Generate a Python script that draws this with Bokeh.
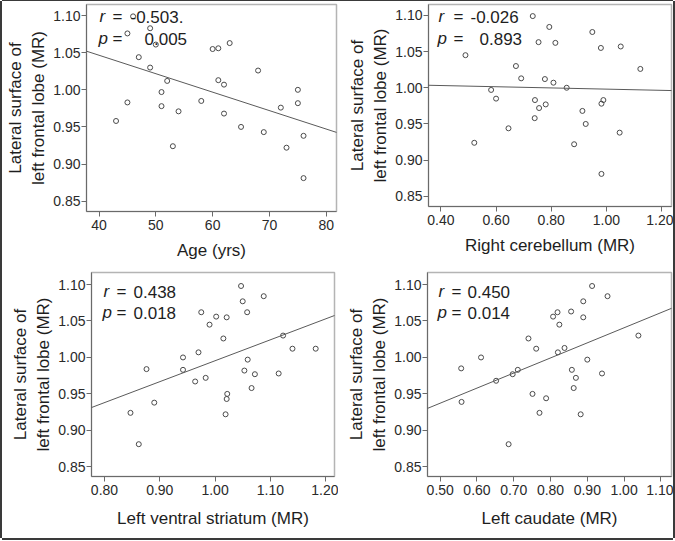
import numpy as np
from bokeh.plotting import figure
from bokeh.layouts import row, column
from bokeh.models import FixedTicker, PrintfTickFormatter, Slope, Label
from bokeh.embed import file_html
from bokeh.resources import INLINE

# ---------------- data ----------------
age = [46, 45, 49, 50, 47, 49, 52, 51, 45, 51, 43, 54, 53, 58, 60, 61, 63, 61, 62, 62,
       65, 68, 69, 72, 75, 75, 73, 76, 76]
lfl_age = [1.099, 1.076, 1.083, 1.061, 1.044, 1.030, 1.012, 0.997, 0.983, 0.978, 0.958,
           0.971, 0.924, 0.985, 1.055, 1.056, 1.063, 1.013, 1.007, 0.968, 0.950, 1.026,
           0.943, 0.976, 1.000, 0.982, 0.922, 0.938, 0.881]

right_cerebellum = [0.733, 0.793, 0.949, 0.754, 0.815, 0.980, 1.052, 0.489, 0.672, 1.123,
                    0.691, 0.777, 0.808, 0.856, 0.582, 0.600, 0.741, 0.989, 0.982, 0.780,
                    0.756, 0.913, 0.740, 0.925, 0.645, 1.048, 0.521, 0.883, 0.982]
lfl_rc = [1.099, 1.084, 1.077, 1.063, 1.062, 1.055, 1.057, 1.045, 1.030, 1.026, 1.013,
          1.012, 1.007, 1.000, 0.997, 0.985, 0.983, 0.983, 0.978, 0.977, 0.972, 0.968,
          0.958, 0.950, 0.944, 0.938, 0.924, 0.922, 0.881]

left_ventral_striatum = [1.047, 1.088, 1.050, 0.975, 1.058, 1.002, 1.021, 0.990, 1.123,
                         1.015, 1.140, 1.182, 0.970, 0.942, 1.059, 0.876, 0.942, 1.053,
                         1.072, 1.115, 0.983, 0.964, 1.066, 1.022, 1.021, 0.890, 0.847,
                         1.019, 0.862]
lfl_lvs = [1.098, 1.084, 1.077, 1.062, 1.062, 1.056, 1.055, 1.045, 1.030, 1.026, 1.012,
           1.012, 1.007, 1.000, 0.997, 0.984, 0.983, 0.982, 0.977, 0.978, 0.972, 0.967,
           0.958, 0.950, 0.943, 0.938, 0.924, 0.922, 0.881]

left_caudate = [0.913, 0.955, 0.889, 0.819, 0.856, 0.807, 0.889, 0.824, 1.039, 0.740,
                0.838, 0.761, 0.820, 0.611, 0.900, 0.557, 0.711, 0.858, 0.697, 0.940,
                0.869, 0.652, 0.863, 0.751, 0.788, 0.558, 0.770, 0.882, 0.686]
lfl_lc = [1.098, 1.084, 1.077, 1.062, 1.063, 1.056, 1.055, 1.045, 1.030, 1.026, 1.013,
          1.012, 1.007, 1.000, 0.997, 0.985, 0.983, 0.983, 0.977, 0.978, 0.972, 0.968,
          0.958, 0.950, 0.944, 0.939, 0.924, 0.922, 0.881]

y_ticks = [0.85, 0.90, 0.95, 1.00, 1.05, 1.10]
x_ticks_age = [40, 50, 60, 70, 80]
x_ticks_rc = [0.40, 0.60, 0.80, 1.00, 1.20]
x_ticks_lvs = [0.80, 0.90, 1.00, 1.10, 1.20]
x_ticks_lc = [0.50, 0.60, 0.70, 0.80, 0.90, 1.00, 1.10]

stats_r = ["-0.503.", "-0.026", "0.438", "0.450"]
stats_p = ["0.005", "0.893", "0.018", "0.014"]
x_titles = ["Age (yrs)", "Right cerebellum (MR)", "Left ventral striatum (MR)", "Left caudate (MR)"]
y_title = "Lateral surface of\nleft frontal lobe (MR)"

FONT = "Liberation Sans"


def panel(x, y, xr, yr, xticks, xfmt, xtitle, r_txt, p_txt, width, height,
          bl, br, bt, bb, pos, xlab_standoff):
    fw = width - bl - br
    fh = height - bt - bb
    p = figure(frame_width=fw, frame_height=fh, x_range=xr, y_range=yr,
               output_backend="svg", toolbar_location=None,
               min_border_left=bl, min_border_right=br,
               min_border_top=bt, min_border_bottom=bb)
    p.background_fill_color = "white"
    p.border_fill_color = "white"
    p.outline_line_color = "#b4b4b4"
    p.outline_line_width = 1.5
    p.grid.visible = False

    for ax in (p.xaxis[0], p.yaxis[0]):
        ax.axis_line_color = "#6a6a6a"
        ax.axis_line_width = 1
        ax.major_tick_line_color = "#6a6a6a"
        ax.major_tick_out = 5
        ax.major_tick_in = 0
        ax.minor_tick_line_color = None
        ax.major_label_text_font = FONT
        ax.major_label_text_font_size = "14px"
        ax.major_label_text_color = "#2a2a2a"
        ax.axis_label_text_font = FONT
        ax.axis_label_text_font_size = "17px"
        ax.axis_label_text_font_style = "normal"
        ax.axis_label_text_color = "#1e1e1e"

    p.xaxis.ticker = FixedTicker(ticks=xticks)
    p.xaxis.formatter = PrintfTickFormatter(format=xfmt)
    p.xaxis.axis_label = xtitle
    p.xaxis.major_label_standoff = 3
    p.xaxis.axis_label_standoff = xlab_standoff

    p.yaxis.ticker = FixedTicker(ticks=y_ticks)
    p.yaxis.formatter = PrintfTickFormatter(format="%.2f")
    p.yaxis.axis_label = y_title
    p.yaxis.major_label_standoff = 1
    p.yaxis.axis_label_standoff = 2

    # regression line fitted to the plotted points
    k, b = np.polyfit(np.array(x, float), np.array(y, float), 1)
    p.add_layout(Slope(gradient=k, y_intercept=b, line_color="#5a5a5a", line_width=1))

    p.scatter(x, y, marker="circle", size=5, fill_color=None,
              line_color="#4a4a4a", line_width=1)

    # statistics text, positioned in pixels from the frame's top-left corner
    sx = (xr[1] - xr[0]) / fw
    sy = (yr[1] - yr[0]) / fh

    def lab(dx, dy, text, italic=False):
        p.add_layout(Label(x=xr[0] + dx * sx, y=yr[1] - dy * sy, text=text,
                           text_font=FONT, text_font_size="17px",
                           text_font_style="italic" if italic else "normal",
                           text_color="#1e1e1e", text_baseline="middle",
                           text_align="left"))

    r_dx, p_dx, eq_dx, rv_dx, pv_dx, r_dy, p_dy = pos
    lab(r_dx, r_dy, "r", True)
    lab(eq_dx, r_dy, "=")
    lab(rv_dx, r_dy, r_txt)
    lab(p_dx, p_dy, "p", True)
    lab(eq_dx, p_dy, "=")
    lab(pv_dx, p_dy, p_txt)
    return p


# layout origin is at page (2, 1); widths 336 + 335, heights 266 + 271
p1 = panel(age, lfl_age, (37.8, 81.8), (0.836, 1.115), x_ticks_age, "%d",
           x_titles[0], stats_r[0], stats_p[0], 336, 266, 84, 2, 3, 56,
           (13, 12, 26, 44, 58, 12, 34), 8)
p2 = panel(right_cerebellum, lfl_rc, (0.355, 1.236), (0.836, 1.115), x_ticks_rc, "%.2f",
           x_titles[1], stats_r[1], stats_p[1], 335, 266, 90, 2, 3, 61,
           (10, 9, 25, 42, 51, 12, 34), 8)
p3 = panel(left_ventral_striatum, lfl_lvs, (0.7765, 1.216), (0.8367, 1.1165), x_ticks_lvs, "%.2f",
           x_titles[2], stats_r[2], stats_p[2], 336, 271, 89, 4, 5, 62,
           (12, 11, 25, 42, 42, 19, 40), 11)
p4 = panel(left_caudate, lfl_lc, (0.4654, 1.129), (0.8367, 1.1165), x_ticks_lc, "%.2f",
           x_titles[3], stats_r[3], stats_p[3], 335, 271, 89, 2, 5, 62,
           (11, 10, 24, 40, 40, 19, 40), 11)

layout = column(row(p1, p2), row(p3, p4),
                styles={"margin-left": "2px", "margin-top": "1px",
                        "box-shadow": "-2px 0 0 #3a3a3a, 2px 0 0 #3a3a3a, "
                                      "0 2px 0 #3a3a3a, 0 -1px 0 #3a3a3a"})

open("out.html", "w").write(file_html(layout, INLINE))
